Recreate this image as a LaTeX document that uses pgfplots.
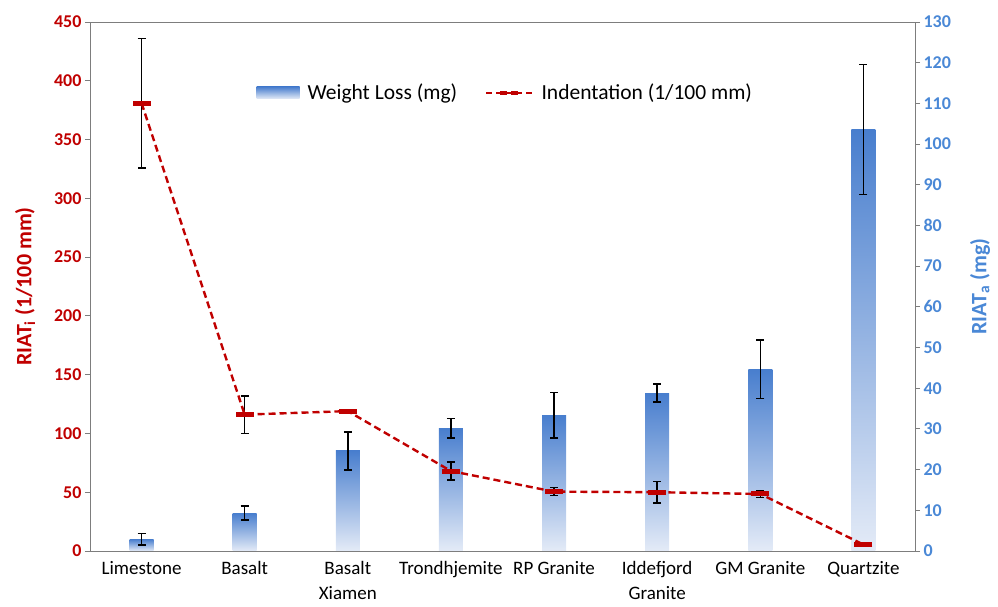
\documentclass[border=0pt]{standalone}
\usepackage{fontspec}
\setmainfont{Carlito}
\usepackage{pgfplots}
\pgfplotsset{compat=1.18}
\definecolor{myred}{RGB}{192,0,0}
\definecolor{myblue}{RGB}{74,136,214}
\definecolor{barTop}{RGB}{72,126,206}
\definecolor{barBot}{RGB}{228,235,247}
\definecolor{axgray}{RGB}{125,125,125}
\pgfplotsset{gbar/.style={ybar, bar width=24bp, bar shift=0pt, draw=none, top color=barTop, bottom color=barBot}}
\begin{document}
\begin{tikzpicture}
\path[use as bounding box] (0,0) rectangle (998bp,607bp);
% bars (right axis)
\begin{axis}[
  at={(90bp,56bp)}, anchor=south west,
  scale only axis, width=825bp, height=529bp,
  xmin=-0.5, xmax=7.5, ymin=0, ymax=130,
  axis x line=none,
  axis y line*=right,
  axis line style={axgray, line width=0.9pt},
  ytick={0,10,...,130},
  tick align=outside, major tick length=5bp,
  tick style={axgray, line width=0.9pt},
  yticklabel style={font=\fontsize{18bp}{20bp}\selectfont\bfseries, text=myblue},
  /pgf/number format/assume math mode=true,
  ylabel={RIAT\textsubscript{a} (mg)},
  ylabel style={at={(axis description cs:1.0788,0.5)}, anchor=center, rotate=0, font=\fontsize{22bp}{24bp}\selectfont\bfseries, text=myblue},
]
\addplot[gbar] coordinates {(0,2.9)};
\addplot[gbar] coordinates {(1,9.3)};
\addplot[gbar] coordinates {(2,24.6)};
\addplot[gbar] coordinates {(3,30.2)};
\addplot[gbar] coordinates {(4,33.4)};
\addplot[gbar] coordinates {(5,38.8)};
\addplot[gbar] coordinates {(6,44.7)};
\addplot[gbar] coordinates {(7,103.6)};
\addplot[draw=none, mark=none, error bars/.cd, y dir=both, y explicit,
  error bar style={draw=black, solid, line width=1.5bp},
  error mark options={draw=black, solid, rotate=90, mark size=4bp, line width=1.5bp}]
  coordinates {(0,2.9) +- (0,1.4) (1,9.3) +- (0,1.7) (2,24.6) +- (0,4.7) (3,30.2) +- (0,2.4)
               (4,33.4) +- (0,5.6) (5,38.8) +- (0,2.2) (6,44.7) +- (0,7.2) (7,103.6) +- (0,16)};
\end{axis}
% line (left axis)
\begin{axis}[
  at={(90bp,56bp)}, anchor=south west,
  scale only axis, width=825bp, height=529bp,
  xmin=-0.5, xmax=7.5, ymin=0, ymax=450,
  axis line style={axgray, line width=0.9pt},
  ytick={0,50,...,450}, ytick pos=left,
  xtick={0,...,7}, xtick pos=bottom,
  xticklabels={Limestone, Basalt, {Basalt\\Xiamen}, Trondhjemite, RP Granite, {Iddefjord\\Granite}, GM Granite, Quartzite},
  xticklabel style={align=center, font=\fontsize{19bp}{25bp}\selectfont, text=black, yshift=-2bp},
  x tick style={draw=none},
  minor xtick={0.5,1.5,...,6.5},
  minor x tick style={axgray, line width=0.9pt},
  minor tick length=6bp,
  tick align=outside, major tick length=5bp,
  y tick style={axgray, line width=0.9pt},
  yticklabel style={font=\fontsize{18bp}{20bp}\selectfont\bfseries, text=myred},
  /pgf/number format/assume math mode=true,
  ylabel={RIAT\textsubscript{i} (1/100 mm)},
  ylabel style={at={(axis description cs:-0.0788,0.5)}, anchor=center, font=\fontsize{22bp}{24bp}\selectfont\bfseries, text=myred},
  legend columns=2,
  legend style={at={(axis description cs:0.198,0.866)}, anchor=west, draw=none, fill=none,
    font=\fontsize{21.5bp}{24bp}\selectfont,
    /tikz/every odd column/.append style={column sep=6bp},
    /tikz/every even column/.append style={column sep=26bp}},
]
\addlegendimage{legend image code/.code={\path[draw=none, top color=barTop, bottom color=barBot] (0bp,-6bp) rectangle (43bp,6bp);}}
\addlegendentry{Weight Loss (mg)}
\addplot[draw=none, mark=none, forget plot, error bars/.cd, y dir=both, y explicit,
  error bar style={draw=black, solid, line width=1.5bp},
  error mark options={draw=black, solid, rotate=90, mark size=4bp, line width=1.5bp}]
  coordinates {(0,381) +- (0,55) (1,116) +- (0,16) (2,119) +- (0,1.5) (3,68) +- (0,7.5)
               (4,50.5) +- (0,3.5) (5,50) +- (0,9) (6,48.5) +- (0,3) (7,5.5) +- (0,0)};
\addplot[myred, line width=2.4bp, dash pattern=on 7bp off 4bp, mark=-, mark size=9bp,
  mark options={solid, line width=5bp},
  legend image code/.code={\draw[myred, line width=2.4bp, dash pattern=on 6bp off 4bp] (0bp,0bp) -- (46bp,0bp); \draw[myred, line width=4bp] (14bp,0bp) -- (32bp,0bp);}]
  coordinates {(0,381) (1,116) (2,119) (3,68) (4,50.5) (5,50) (6,48.5) (7,5.5)};
\addlegendentry{Indentation (1/100 mm)}
\end{axis}
\end{tikzpicture}
\end{document}
